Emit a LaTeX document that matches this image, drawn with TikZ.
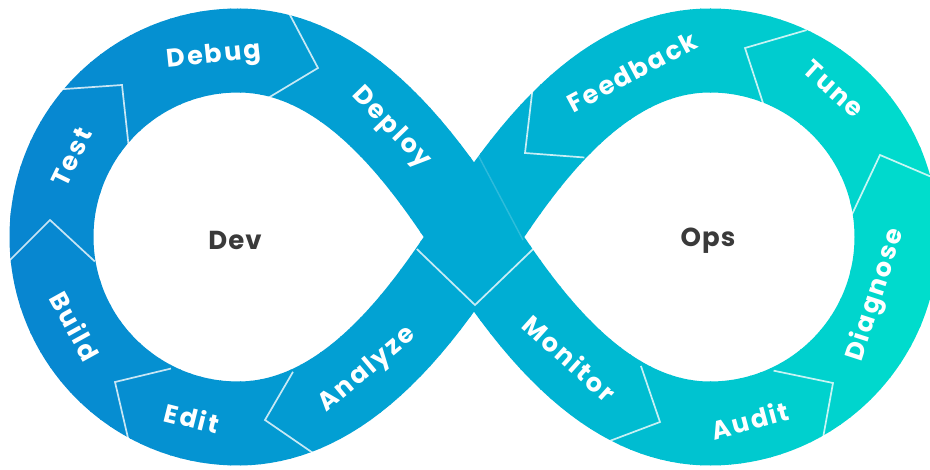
\documentclass[tikz,border=0pt]{standalone}
\usepackage{fontspec}
\setmainfont{Poppins}
\newfontfamily\labfont{Poppins}[LetterSpace=8]
\newfontfamily\hubfont{Poppins}[LetterSpace=4]
\usetikzlibrary{calc}
\definecolor{cL}{RGB}{8,132,208}
\definecolor{cM}{RGB}{0,170,212}
\definecolor{cR}{RGB}{0,222,204}
\definecolor{hubtext}{RGB}{58,58,58}
\def\bandpath{(238,50.5) arc[start angle=-90, end angle=-270, radius=186.5]
  .. controls (348,423.5) and (425,312.5) .. (474,237)
  .. controls (523,161.5) and (600,50.5) .. (710,50.5)
  arc[start angle=-90, end angle=90, radius=186.5]
  .. controls (600,423.5) and (523,312.5) .. (474,237)
  .. controls (425,161.5) and (348,50.5) .. (238,50.5) -- cycle}
\tikzset{
  lab/.style={text=white, inner sep=0pt, font=\labfont\bfseries\fontsize{25.5}{25.5}\selectfont},
  hub/.style={text=hubtext, inner sep=0pt, font=\hubfont\bfseries\fontsize{26}{26}\selectfont},
  sepline/.style={draw=white, opacity=0.78, line width=1.7pt, line join=miter},
  faintline/.style={draw=white, opacity=0.18, line width=1.4pt}
}
\begin{document}
\begin{tikzpicture}[x=1pt,y=-1pt]
\useasboundingbox (0,0) rectangle (930,470);
\clip (0,0) rectangle (930,470);
\fill[white] (0,0) rectangle (930,470);
% gradient band by vertical slices
\foreach \i in {0,...,92}{
  \pgfmathsetmacro\xa{\i*10}
  \pgfmathsetmacro\xm{\xa+5}
  \ifdim\xm pt<474pt
    \pgfmathsetmacro\p{\xm/474*100}
    \colorlet{slicecol}{cM!\p!cL}
  \else
    \pgfmathsetmacro\p{min(100,(\xm-474)/456*100)}
    \colorlet{slicecol}{cR!\p!cM}
  \fi
  \begin{scope}
    \clip (\xa,-10) rectangle (\xa+11,480);
    \draw[line width=84pt, slicecol, line join=round] \bandpath;
  \end{scope}
}
% faint overlap edge at the crossing
\coordinate (ntop) at (477,153);
\coordinate (rtip) at (523,240);
\draw[faintline] (ntop) -- (rtip);
% separators
\coordinate (s1a) at (13,257);  \coordinate (s1t) at (50,220);  \coordinate (s1b) at (90,257);
\coordinate (s2a) at (65,89);   \coordinate (s2t) at (122,85);  \coordinate (s2b) at (128,140);
\coordinate (s3a) at (290,15);  \coordinate (s3t) at (318,68);  \coordinate (s3b) at (273,95);
\coordinate (s4a) at (128,438); \coordinate (s4t) at (115,382); \coordinate (s4b) at (165,370);
\coordinate (s5a) at (290,377); \coordinate (s5t) at (265,420); \coordinate (s5b) at (313,453);
\coordinate (s6a) at (423,255); \coordinate (s6t) at (475,305); \coordinate (s6b) at (527,255);
\coordinate (s7a) at (533,85);  \coordinate (s7t) at (525,153); \coordinate (s7b) at (578,157);
\coordinate (s8a) at (800,32);  \coordinate (s8t) at (745,48);  \coordinate (s8b) at (762,100);
\coordinate (s9a) at (927,175); \coordinate (s9t) at (880,155); \coordinate (s9b) at (855,208);
\coordinate (s10a) at (823,438); \coordinate (s10t) at (833,383); \coordinate (s10b) at (780,372);
\coordinate (s11a) at (607,442); \coordinate (s11t) at (660,422); \coordinate (s11b) at (643,372);
\foreach \k in {1,...,11}{
  \draw[sepline] ($(s\k t)!1.12!(s\k a)$) -- (s\k t) -- ($(s\k t)!1.12!(s\k b)$);
}
% labels
\node[lab, rotate=6]   (debug)    at (214,57)  {Debug};
\node[lab, rotate=64]  (test)     at (72,157)  {Test};
\node[lab, rotate=-61] (build)    at (75,326)  {Build};
\node[lab, rotate=-14] (edit)     at (192,418) {Edit};
\node[lab, rotate=40]  (analyze)  at (368,370) {Analyze};
\node[lab, rotate=-46] (deploy)   at (391,128) {Deploy};
\node[lab, rotate=28]  (feedback) at (632,72)  {Feedback};
\node[lab, rotate=-42] (tune)     at (834,89)  {Tune};
\node[lab, rotate=72]  (diagnose) at (876,295) {Diagnose};
\node[lab, rotate=15]  (audit)    at (750,420) {Audit};
\node[lab, rotate=-42] (monitor)  at (570,358) {Monitor};
\node[hub] (dev) at (235,240) {Dev};
\node[hub] (ops) at (708,241) {Ops};
\end{tikzpicture}
\end{document}
